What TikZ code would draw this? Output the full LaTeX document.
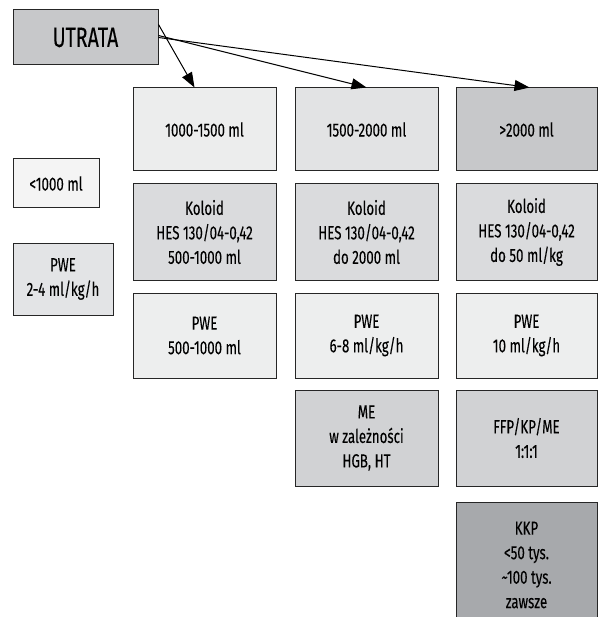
\documentclass[tikz,border=0pt]{standalone}
\usepackage{fontspec}
\setmainfont{Fira Sans}[FakeStretch=0.7,FakeBold=0.15]
\usetikzlibrary{arrows.meta}
\definecolor{cUtr}{HTML}{C7C8CA}
\definecolor{cBa}{HTML}{ECEDED}
\definecolor{cBb}{HTML}{E2E3E4}
\definecolor{cBc}{HTML}{C7C8CA}
\definecolor{cLt}{HTML}{F4F4F4}
\definecolor{cPl}{HTML}{E3E4E6}
\definecolor{cKol}{HTML}{DADBDD}
\definecolor{cPwe}{HTML}{EDEEEE}
\definecolor{cMe}{HTML}{D1D2D4}
\definecolor{cKkp}{HTML}{A7A9AC}
\tikzset{
  box/.style={draw=black!85, line width=1pt, align=center, inner sep=0pt,
    font=\fontsize{19}{24.5}\selectfont},
  arr/.style={draw=black, line width=1pt, -{Triangle[length=15pt,width=11pt]}},
}
\begin{document}
\begin{tikzpicture}[x=1pt,y=-1pt]
\clip (0,0) rectangle (602,617);
\node[box, fill=cUtr, minimum width=145pt, minimum height=55pt, font=\fontsize{28}{30}\selectfont] (utrata) at (85.5,37.5) {UTRATA};
\node[box, fill=cBa, minimum width=143pt, minimum height=83pt] (b1) at (204.5,129.5) {1000-1500 ml};
\node[box, fill=cBb, minimum width=143pt, minimum height=83pt] (b2) at (366.5,129.5) {1500-2000 ml};
\node[box, fill=cBc, minimum width=141pt, minimum height=83pt] (b3) at (526.5,129.5) {>2000 ml};
\node[box, fill=cLt, minimum width=86pt, minimum height=49pt] (lt) at (56,183.5) {<1000 ml};
\node[box, fill=cPl, minimum width=100pt, minimum height=72pt] (pl) at (63,279) {PWE\\2-4 ml/kg/h};
\node[box, fill=cKol, minimum width=143pt, minimum height=96pt] (k1) at (204.5,232) {Koloid\\HES 130/04-0,42\\500-1000 ml};
\node[box, fill=cKol, minimum width=143pt, minimum height=96pt] (k2) at (366.5,232) {Koloid\\HES 130/04-0,42\\do 2000 ml};
\node[box, fill=cKol, minimum width=141pt, minimum height=96pt] (k3) at (526.5,232) {Koloid\\HES 130/04-0,42\\do 50 ml/kg};
\node[box, fill=cPwe, minimum width=143pt, minimum height=85pt] (p1) at (204.5,335.5) {PWE\\500-1000 ml};
\node[box, fill=cPwe, minimum width=143pt, minimum height=85pt] (p2) at (366.5,335.5) {PWE\\6-8 ml/kg/h};
\node[box, fill=cPwe, minimum width=141pt, minimum height=85pt] (p3) at (526.5,335.5) {PWE\\10 ml/kg/h};
\node[box, fill=cMe, minimum width=143pt, minimum height=96pt] (m2) at (366.5,438) {ME\\w zależności\\HGB, HT};
\node[box, fill=cMe, minimum width=141pt, minimum height=96pt] (m3) at (526.5,438) {FFP/KP/ME\\1:1:1};
\node[box, fill=cKkp, minimum width=141pt, minimum height=126pt] (kkp) at (526.5,565) {KKP\\<50 tys.\\{\char"7E}100 tys.\\zawsze};
\draw[arr] ([yshift=13pt]utrata.east) -- ([xshift=-10pt]b1.north);
\draw[arr] ([yshift=2pt]utrata.east) -- (b2.north);
\draw[arr] ([yshift=0pt]utrata.east) -- ([xshift=3pt]b3.north);
\end{tikzpicture}
\end{document}
